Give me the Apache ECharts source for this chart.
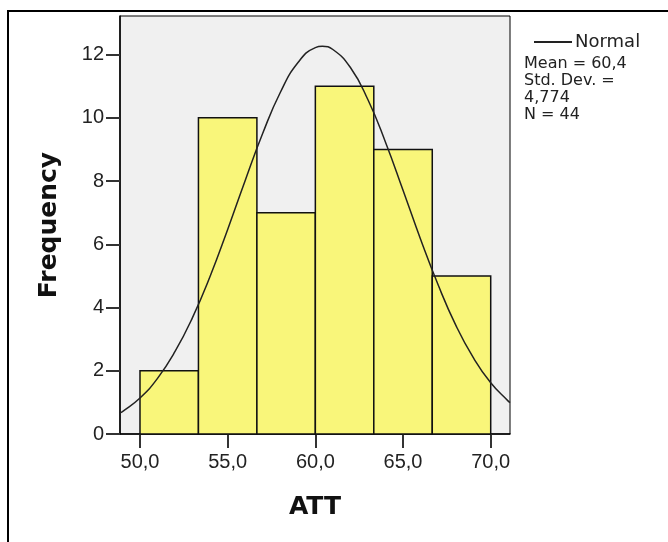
<!DOCTYPE html>
<html>
<head>
<meta charset="utf-8">
<script src="https://cdn.jsdelivr.net/npm/echarts@6/dist/echarts.min.js"></script>
<style>
  html, body { margin: 0; padding: 0; background: #fff; }
  #chart { width: 668px; height: 542px; }
</style>
</head>
<body>
<div id="chart"></div>
<script>
// histogram bins (ATT)
var binStart = [50, 53.333, 56.667, 60, 63.333, 66.667];
var binEnd = [53.333, 56.667, 60, 63.333, 66.667, 70];
var counts = [2, 10, 7, 11, 9, 5];

// fitted normal curve
var curveX = [48.86, 49, 50, 51, 52, 53, 54, 55, 56, 57, 58, 59, 60, 60.4, 61, 62, 63, 64, 65, 66, 67, 68, 69, 70, 71, 71.1];
var curveY = [0.67, 0.71, 1.14, 1.76, 2.61, 3.69, 4.99, 6.47, 8.02, 9.51, 10.8, 11.74, 12.22, 12.26, 12.16, 11.59, 10.57, 9.23, 7.71, 6.16, 4.72, 3.45, 2.42, 1.62, 1.04, 0.99];

var xTicks = [50, 55, 60, 65, 70];
var statLines = ['Mean = 60,4', 'Std. Dev. =', '4,774', 'N = 44'];

var chartDom = document.getElementById('chart');
var myChart = echarts.init(chartDom);
var option;

var barData = binStart.map(function (s, i) {
  return [s, binEnd[i], counts[i]];
});
var lineData = curveX.map(function (x, i) {
  return [x, curveY[i]];
});

var font = 'Liberation Sans, Arial, sans-serif';
var wideFont = 'DejaVu Sans, sans-serif';

option = {
  animation: false,
  backgroundColor: '#fff',
  grid: {
    left: 120,
    top: 16,
    right: 158,
    bottom: 108,
    show: true,
    backgroundColor: '#f0f0f0',
    borderColor: '#000',
    borderWidth: 1
  },
  legend: {
    data: ['Normal'],
    left: 529,
    top: 28,
    icon: 'rect',
    itemWidth: 38,
    itemHeight: 2,
    itemGap: 4,
    textStyle: { fontFamily: wideFont, fontSize: 18, color: '#222', padding: [0, 0, 0, -2] }
  },
  graphic: [
    {
      type: 'rect',
      silent: true,
      z: -1,
      shape: { x: 8, y: 11, width: 700, height: 600 },
      style: { fill: 'none', stroke: '#000', lineWidth: 2 }
    },
    {
      type: 'text',
      left: 524,
      top: 55,
      style: {
        text: statLines.join('\n'),
        font: '16px "DejaVu Sans", sans-serif',
        lineHeight: 17,
        fill: '#222'
      }
    }
  ],
  xAxis: {
    type: 'value',
    min: 48.86,
    max: 71.1,
    name: 'ATT',
    nameLocation: 'middle',
    nameGap: 61,
    nameTextStyle: { fontFamily: wideFont, fontSize: 25, fontWeight: 'bold', color: '#111' },
    splitLine: { show: false },
    axisLine: { show: true, lineStyle: { color: '#000', width: 1.5 } },
    axisTick: { show: true, customValues: xTicks, length: 14, lineStyle: { color: '#333', width: 2 } },
    axisLabel: {
      customValues: xTicks,
      margin: 18,
      fontFamily: font,
      fontSize: 20,
      color: '#222',
      formatter: function (v) { return v.toFixed(1).replace('.', ','); }
    }
  },
  yAxis: {
    type: 'value',
    min: 0,
    max: 13.22,
    interval: 2,
    name: 'Frequency',
    nameLocation: 'middle',
    nameGap: 58,
    nameTextStyle: { fontFamily: wideFont, fontSize: 25, fontWeight: 'bold', color: '#111' },
    splitLine: { show: false },
    axisLine: { show: true, lineStyle: { color: '#000', width: 1.5 } },
    axisTick: { show: true, length: 14, lineStyle: { color: '#333', width: 2 } },
    axisLabel: {
      margin: 16,
      fontFamily: font,
      fontSize: 20,
      color: '#222',
      showMaxLabel: false
    }
  },
  series: [
    {
      name: 'Frequency',
      type: 'custom',
      renderItem: function (params, api) {
        var p0 = api.coord([api.value(0), api.value(2)]);
        var p1 = api.coord([api.value(1), 0]);
        return {
          type: 'rect',
          shape: { x: p0[0], y: p0[1], width: p1[0] - p0[0], height: p1[1] - p0[1] },
          style: { fill: '#f9f67a', stroke: '#111', lineWidth: 1.5 }
        };
      },
      encode: { x: [0, 1], y: 2 },
      data: barData
    },
    {
      name: 'Normal',
      type: 'line',
      smooth: true,
      symbol: 'none',
      clip: true,
      z: 5,
      lineStyle: { color: '#222', width: 1.5 },
      itemStyle: { color: '#222' },
      data: lineData
    }
  ]
};

option && myChart.setOption(option);
</script>
</body>
</html>
